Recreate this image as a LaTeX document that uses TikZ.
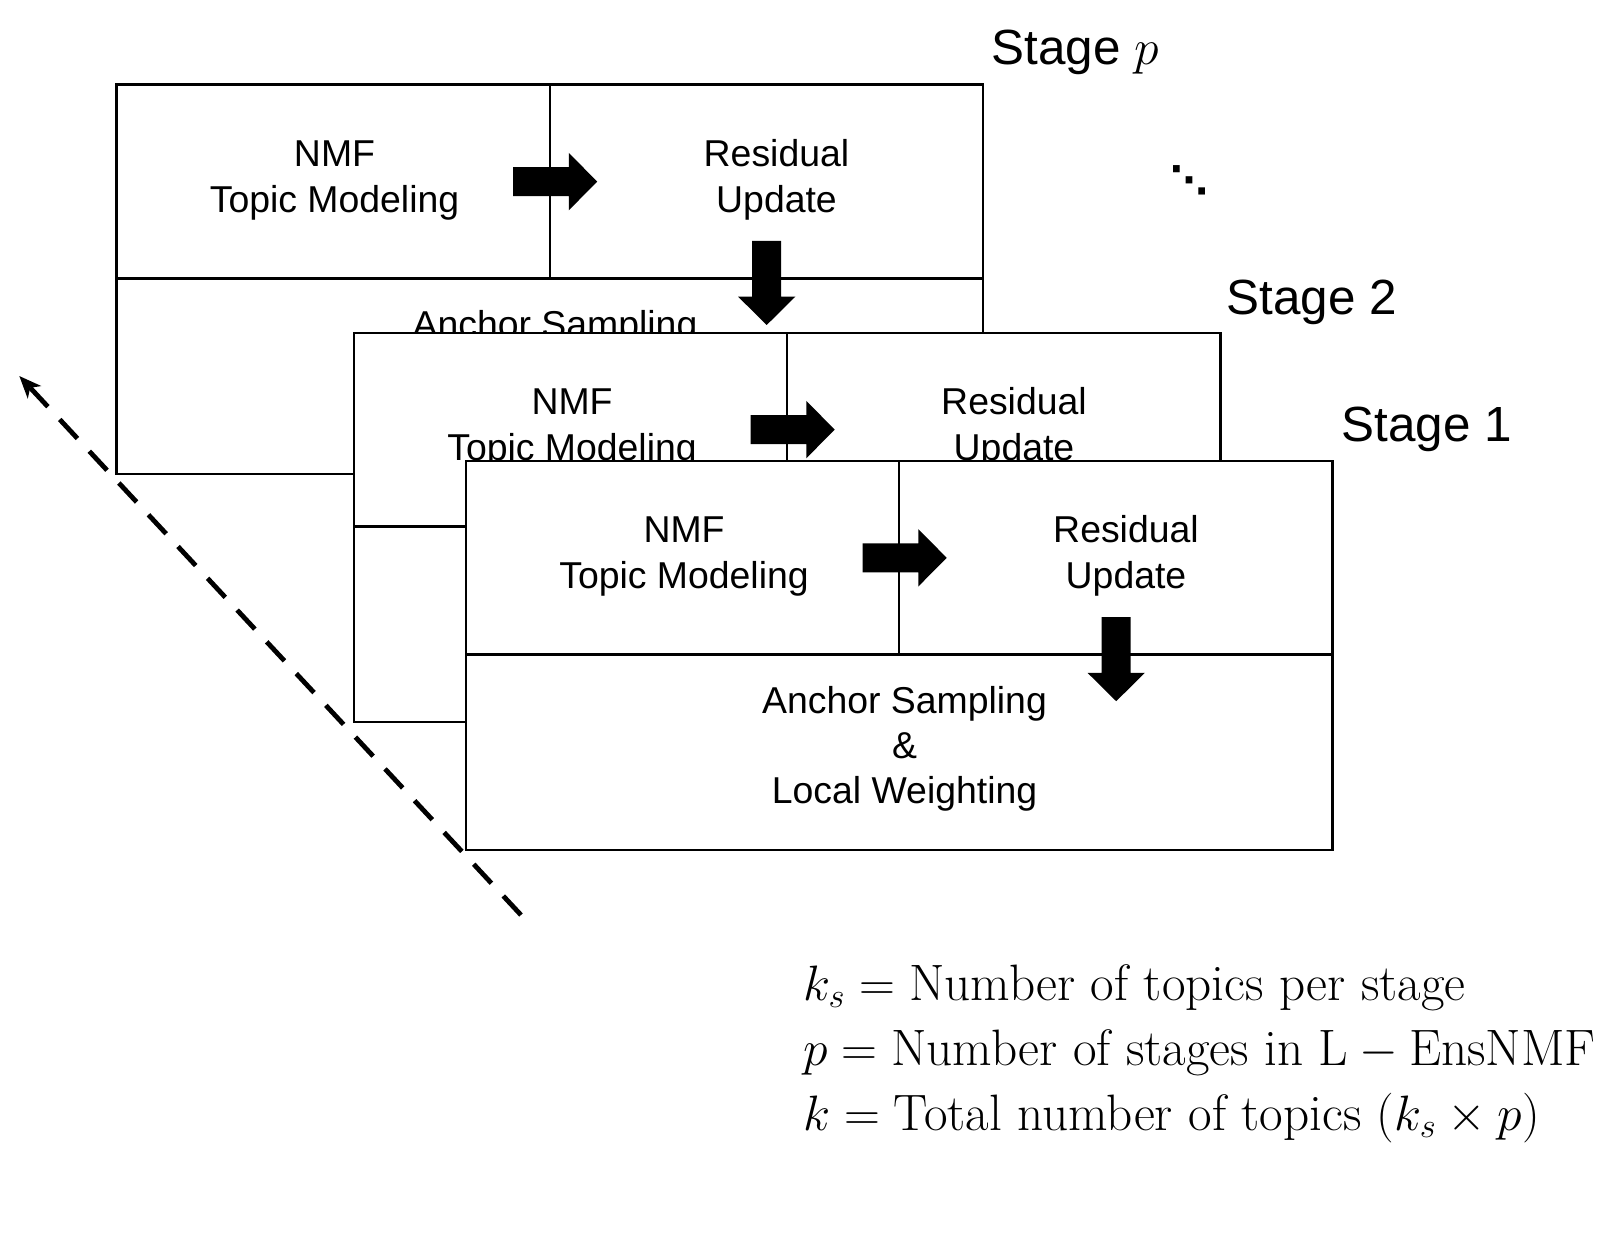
\documentclass[tikz,border=0pt]{standalone}
\usepackage{amsmath}
\usepackage{fontspec}
\usetikzlibrary{arrows.meta}
\newfontfamily\arialf{Liberation Sans}
\newfontfamily\dejavuf{DejaVu Sans}
\begin{document}
\begin{tikzpicture}[x=0.5pt,y=-0.5pt,
  stagebox/.style={draw=black, line width=1.1pt, fill=white},
  hdiv/.style={line width=1.5pt},
  vdiv/.style={line width=0.9pt},
  lbl/.style={font=\arialf\fontsize{18.7}{22}\selectfont, inner sep=0pt, anchor=base},
  stagelbl/.style={font=\arialf\fontsize{24.7}{29}\selectfont, inner sep=0pt, anchor=base west},
  legend/.style={font=\fontsize{25.6}{30}\selectfont, inner sep=0pt, anchor=base west},
  blockarrow/.pic={\fill[black] (0,-14.5) -- (55.6,-14.5) -- (55.6,-28.7) -- (84,0) -- (55.6,28.7) -- (55.6,14.5) -- (0,14.5) -- cycle;},
  flowdash/.style={line width=2.4pt, dash pattern=on 13pt off 8.7pt, -{Stealth[length=11pt,width=9pt,inset=3pt]}}
]
\useasboundingbox[fill=white] (0,0) rectangle (1617,1257);

% ---------------- Stage p ----------------
\begin{scope}[shift={(116.5,84.6)}]
  \draw[stagebox] (0,0) rectangle (866.5,389.5);
  \draw[vdiv] (433.3,0) -- (433.3,194);
  \draw[hdiv] (0,194) -- (866.5,194);
  \node[lbl] (pnmf) at (218,81.9) {NMF};
  \node[lbl] (ptopic) at (218,127.5) {Topic Modeling};
  \node[lbl] (pres) at (660,81.9) {Residual};
  \node[lbl] (pupd) at (660,127.5) {Update};
  \node[lbl] (panchor) at (438.5,252.5) {Anchor Sampling};
  \pic at (396.7,97) {blockarrow};
  \pic[rotate=-90] at (650.2,156.4) {blockarrow};
\end{scope}

% ---------------- Stage 2 ----------------
\begin{scope}[shift={(354,332.6)}]
  \draw[stagebox] (0,0) rectangle (866.5,389.5);
  \draw[vdiv] (433.3,0) -- (433.3,194);
  \draw[hdiv] (0,194) -- (866.5,194);
  \node[lbl] (snmf) at (218,81.9) {NMF};
  \node[lbl] (stopic) at (218,127.5) {Topic Modeling};
  \node[lbl] (sres) at (660,81.9) {Residual};
  \node[lbl] (supd) at (660,127.5) {Update};
  \pic at (396.7,97) {blockarrow};
\end{scope}

% ---------------- Stage 1 ----------------
\begin{scope}[shift={(466,460.8)}]
  \draw[stagebox] (0,0) rectangle (866.5,389.5);
  \draw[vdiv] (433.3,0) -- (433.3,194);
  \draw[hdiv] (0,194) -- (866.5,194);
  \node[lbl] (onmf) at (218,81.9) {NMF};
  \node[lbl] (otopic) at (218,127.5) {Topic Modeling};
  \node[lbl] (ores) at (660,81.9) {Residual};
  \node[lbl] (oupd) at (660,127.5) {Update};
  \node[lbl] (oanchor) at (438.5,252.5) {Anchor Sampling};
  \node[lbl] (oamp) at (438.5,297.5) {\&};
  \node[lbl] (olocal) at (438.5,342.5) {Local Weighting};
  \pic at (396.7,97) {blockarrow};
  \pic[rotate=-90] at (650.2,156.4) {blockarrow};
\end{scope}

% ---------------- Stage labels ----------------
\node[stagelbl] (labp) at (991,65) {Stage $p$};
\node[stagelbl] (lab2) at (1226,314.3) {Stage 2};
\node[stagelbl] (lab1) at (1341,441.5) {Stage 1};
\node[font=\dejavuf\bfseries\fontsize{19}{21}\selectfont, inner sep=0pt] (dots) at (1189.2,180.4) {⋱};

% ---------------- dashed direction arrow ----------------
\coordinate (dashstart) at (521,915);
\coordinate (dashend) at (19.3,376);
\draw[flowdash] (dashstart) -- (dashend);

% ---------------- legend ----------------
\node[legend] (leg1) at (803,1000) {$k_s = \text{Number of topics per stage}$};
\node[legend] (leg2) at (803,1065) {$p = \text{Number of stages in }\mathrm{L}-\mathrm{EnsNMF}$};
\node[legend] (leg3) at (803,1130) {$k = \text{Total number of topics }(k_s\times p)$};
\end{tikzpicture}
\end{document}
